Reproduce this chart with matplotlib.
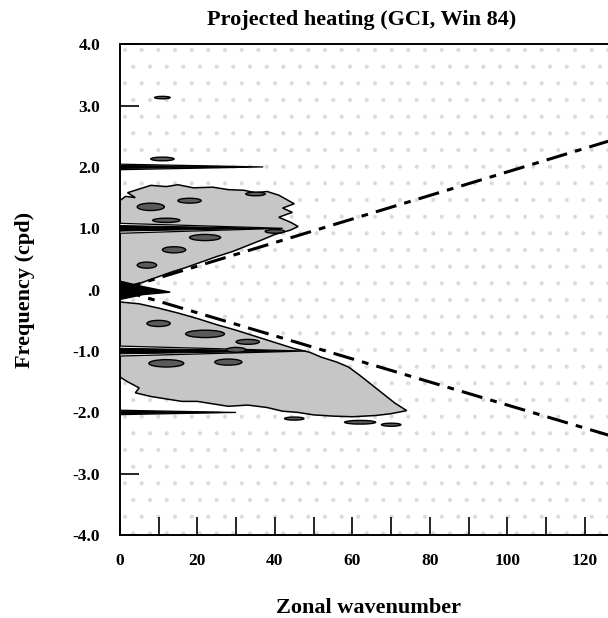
import matplotlib
matplotlib.use("Agg")
import matplotlib.pyplot as plt
from matplotlib.patches import Polygon, Ellipse, Rectangle
import numpy as np

plt.rcParams['font.family'] = ['Liberation Serif', 'DejaVu Serif']
plt.rcParams['font.weight'] = 'bold'
plt.rcParams['hatch.linewidth'] = 0.5

# outer edge of the shaded (upper) lobe, wavenumber / frequency (cpd)
upper_k = [0, 1.5, 4, 2, 5, 8, 12, 15, 19, 24, 28, 32, 35, 38, 41, 43, 45, 42, 44.5, 41, 44,
           46, 44, 40, 37, 33, 29, 25, 21, 17, 13, 9, 5, 2, 0]
upper_f = [1.45, 1.52, 1.50, 1.58, 1.64, 1.70, 1.68, 1.71, 1.66, 1.67, 1.63, 1.62, 1.58, 1.60,
           1.54, 1.47, 1.40, 1.33, 1.26, 1.18, 1.10, 1.03, 0.97, 0.90, 0.82, 0.72, 0.62, 0.54,
           0.45, 0.36, 0.28, 0.19, 0.10, 0.05, 0.03]

# outer edge of the shaded (lower) lobe
lower_k = [0, 5, 10, 15, 20, 25, 30, 35, 40, 45, 49, 52, 56, 59, 62, 65, 68, 71, 74,
           70, 66, 60, 55, 50, 46, 42, 38, 33, 28, 24, 20, 16, 12, 8, 4, 5, 2, 0]
lower_f = [-0.20, -0.23, -0.30, -0.38, -0.47, -0.57, -0.66, -0.76, -0.86, -0.96, -1.02, -1.10,
           -1.18, -1.26, -1.40, -1.55, -1.70, -1.85, -1.97,
           -2.02, -2.05, -2.07, -2.06, -2.04, -2.00, -1.98, -1.92, -1.88, -1.90, -1.86, -1.82,
           -1.82, -1.78, -1.74, -1.68, -1.60, -1.50, -1.42]

# strong ridges along integer frequencies: frequency, length (wavenumber)
ridge_f = [2.0, 1.0, -1.0, -2.0]
ridge_len = [33, 38, 44, 26]
ridge_half = [0.025, 0.045, 0.045, 0.02]

# small closed contours: centre k, centre f, width (k), height (cpd)
blob_k = [11, 11, 12, 8, 22, 14, 7, 35, 40, 10, 22, 12, 28, 62, 70, 45, 30, 18, 33]
blob_f = [3.13, 2.13, 1.13, 1.35, 0.85, 0.65, 0.40, 1.56, 0.95, -0.55, -0.72, -1.20, -1.18,
          -2.16, -2.20, -2.10, -0.98, 1.45, -0.85]
blob_w = [4, 6, 7, 7, 8, 6, 5, 5, 5, 6, 10, 9, 7, 8, 5, 5, 5, 6, 6]
blob_h = [0.02, 0.03, 0.035, 0.06, 0.05, 0.05, 0.05, 0.03, 0.03, 0.05, 0.06, 0.06, 0.05,
          0.03, 0.025, 0.025, 0.04, 0.04, 0.04]

# theoretical dispersion lines (slope cpd per wavenumber)
line_k = [0, 130]
slope_east = 0.0192
slope_west = -0.0188

fig = plt.figure(figsize=(6.08, 6.18), dpi=100)
ax = fig.add_axes([0.197, 0.134, 0.829, 0.7945])
ax.set_xlim(0, 130)
ax.set_ylim(-4, 4)

# stippled background
ax.add_patch(Rectangle((0, -4), 130, 8, fill=False, hatch='.', edgecolor='#dadada', lw=0, zorder=0))

for kk, ff in [(upper_k, upper_f), (lower_k, lower_f)]:
    ax.add_patch(Polygon(np.column_stack([kk, ff]), closed=True, facecolor='#c6c6c6',
                         edgecolor='none', zorder=2))
    ax.add_patch(Polygon(np.column_stack([kk, ff]), closed=True, fill=False,
                         edgecolor='black', lw=1.1, zorder=2))

for f, L, h in zip(ridge_f, ridge_len, ridge_half):
    ax.add_patch(Polygon([[0, f + 1.8 * h], [L + 4, f], [0, f - 1.8 * h]], closed=True,
                         facecolor='white', edgecolor='black', lw=0.9, zorder=3))
    ax.add_patch(Polygon([[0, f + h], [L, f], [0, f - h]], closed=True,
                         facecolor='black', edgecolor='black', lw=0.8, zorder=4))

# dark wedge at the origin
ax.add_patch(Polygon([[0, 0.14], [6, 0.05], [13, -0.04], [6, -0.08], [0, -0.16]], closed=True,
                     facecolor='black', edgecolor='black', lw=1, zorder=4))

for k, f, w, h in zip(blob_k, blob_f, blob_w, blob_h):
    ax.add_patch(Ellipse((k, f), w, h * 2, facecolor='#5a5a5a', edgecolor='black', lw=1.0, zorder=4))

dash = (0, (7, 2.7, 2.2, 2.7))
ax.plot(line_k, [slope_east * k for k in line_k], color='black', lw=2.2, ls=dash, zorder=5)
ax.plot(line_k, [slope_west * k for k in line_k], color='black', lw=2.2, ls=dash, zorder=5)

ax.spines['right'].set_visible(False)
for s in ['left', 'bottom', 'top']:
    ax.spines[s].set_linewidth(1.4)

ax.set_yticks([4, 3, 2, 1, 0, -1, -2, -3, -4])
ax.set_yticklabels(['4.0', '3.0', '2.0', '1.0', '.0', '-1.0', '-2.0', '-3.0', '-4.0'])
ax.set_xticks(np.arange(0, 130, 20))
ax.set_xticks(np.arange(10, 131, 10), minor=True)
ax.tick_params(axis='y', direction='in', length=14, width=1.2, pad=14, labelsize=12.5)
ax.tick_params(axis='x', which='major', direction='in', length=13, width=1.2, pad=13, labelsize=12.5)
ax.tick_params(axis='x', which='minor', direction='in', length=13, width=1.2)
ax.tick_params(top=False, right=False)

fig.text(362 / 608, 1 - 20 / 618, 'Projected heating (GCI, Win 84)', ha='center', va='center',
         fontsize=16, fontweight='bold')
fig.text(369 / 608, 10 / 618, 'Zonal wavenumber', ha='center', va='center', fontsize=16,
         fontweight='bold')
fig.text(25 / 608, 1 - 290 / 618, 'Frequency (cpd)', ha='center', va='center', rotation=90,
         fontsize=16, fontweight='bold')

fig.savefig('out.png', dpi=100)
